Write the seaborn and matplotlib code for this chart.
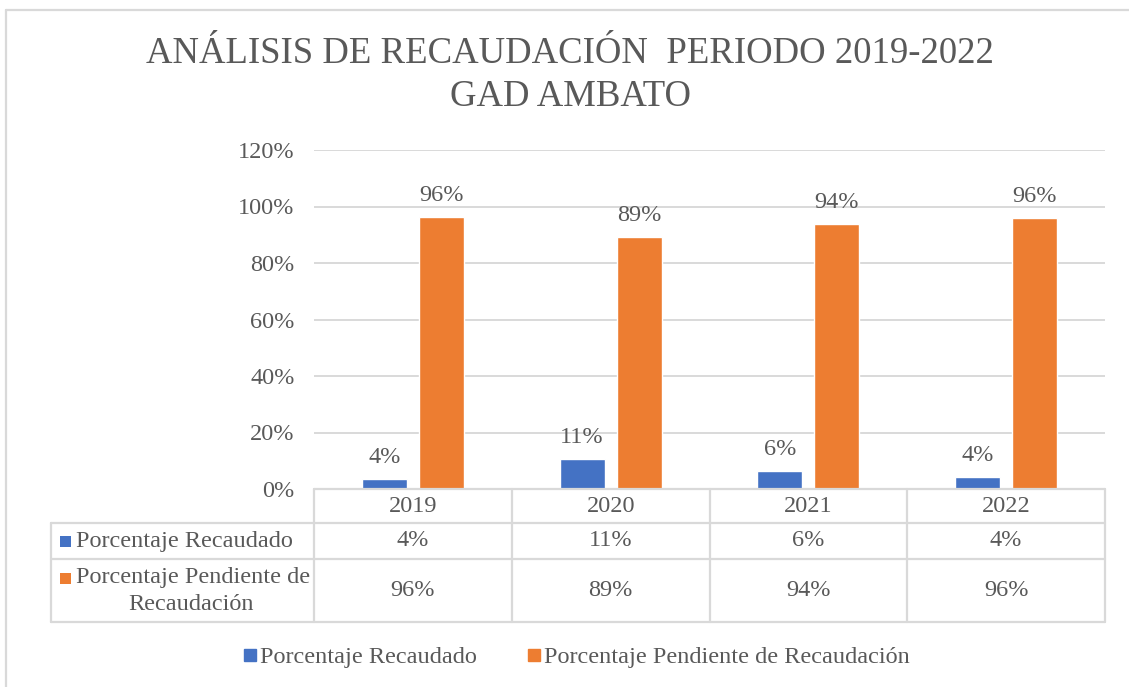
import matplotlib
matplotlib.use("Agg")
import matplotlib.pyplot as plt
import matplotlib.transforms as mtrans
from matplotlib.lines import Line2D
from matplotlib.patches import Rectangle
from matplotlib.ticker import PercentFormatter
import seaborn as sns
import pandas as pd

# datos (fracciones)
years = ["2019", "2020", "2021", "2022"]
recaudado = [0.036, 0.107, 0.062, 0.042]
pendiente = [0.964, 0.893, 0.938, 0.958]
series_names = ["Porcentaje Recaudado", "Porcentaje Pendiente de Recaudación"]
colors = ["#4472C4", "#ED7D31"]
yticks = [0, 0.2, 0.4, 0.6, 0.8, 1.0, 1.2]

W, H = 1129, 687
gray = "#595959"
lcol = "#D9D9D9"
fs = 17.5


def fx(px):
    return px / W


def fy(py):
    return 1 - py / H


def pct(v):
    return f"{v * 100:.0f}%"


sns.set_theme(style="white")
plt.rcParams['font.family'] = ['Liberation Serif', 'DejaVu Serif']

df = pd.DataFrame({
    "year": years * 2,
    "valor": recaudado + pendiente,
    "serie": [series_names[0]] * len(years) + [series_names[1]] * len(years),
})

fig = plt.figure(figsize=(W / 100, H / 100), dpi=100)
ax = fig.add_axes([fx(314), fy(489), fx(1105) - fx(314), fy(150) - fy(489)])
sns.barplot(data=df, x="year", y="valor", hue="serie", palette=colors,
            saturation=1, width=0.576, gap=0.21, legend=False, ax=ax)

ax.set_xlim(-0.5, len(years) - 0.5)
ax.set_ylim(0, 1.2)
ax.set_yticks(yticks)
ax.yaxis.set_major_formatter(PercentFormatter(1.0, decimals=0))
ax.grid(axis="y", color=lcol, lw=1.4)
ax.set_axisbelow(True)
for s in ax.spines.values():
    s.set_visible(False)
ax.set_xticks([])
ax.set_xlabel("")
ax.set_ylabel("")
ax.tick_params(axis="y", length=0, pad=14, labelsize=fs, labelcolor=gray)

for cont, vals in zip(ax.containers, [recaudado, pendiente]):
    ax.bar_label(cont, labels=[pct(v) for v in vals], padding=8, fontsize=fs, color=gray)

# tabla de datos
tr = mtrans.blended_transform_factory(ax.transData, fig.transFigure)
x0, x1 = -0.5, len(years) - 0.5
rows_y = [489, 523, 559, 622]


def fline(xs, ys, transform):
    fig.add_artist(Line2D(xs, ys, transform=transform, color=lcol, lw=1.6, clip_on=False))


fline([x0, x1], [fy(489), fy(489)], tr)
for py in rows_y[1:]:
    fline([fx(51), fx(1105)], [fy(py), fy(py)], fig.transFigure)
fline([fx(51), fx(51)], [fy(523), fy(622)], fig.transFigure)
for i in range(len(years) + 1):
    fline([x0 + i, x0 + i], [fy(489), fy(622)], tr)

for i, y in enumerate(years):
    fig.text(i, fy(506), y, transform=tr, ha="center", va="center", fontsize=fs, color=gray)
    fig.text(i, fy(541), pct(recaudado[i]), transform=tr, ha="center", va="center", fontsize=fs, color=gray)
    fig.text(i, fy(590), pct(pendiente[i]), transform=tr, ha="center", va="center", fontsize=fs, color=gray)

# etiquetas de fila con cuadrito
fig.add_artist(Rectangle((fx(60), fy(547)), fx(11), 11 / H, transform=fig.transFigure,
                         color=colors[0], lw=0))
fig.text(fx(76), fy(541), series_names[0], ha="left", va="center", fontsize=fs, color=gray)
fig.add_artist(Rectangle((fx(60), fy(584)), fx(11), 11 / H, transform=fig.transFigure,
                         color=colors[1], lw=0))
fig.text(fx(76), fy(578), "Porcentaje Pendiente de", ha="left", va="center", fontsize=fs, color=gray)
fig.text(fx(191), fy(604), "Recaudación", ha="center", va="center", fontsize=fs, color=gray)

# leyenda
handles = [Line2D([], [], marker="s", linestyle="", color=c, markersize=8) for c in colors]
fig.legend(handles, series_names, loc="center", bbox_to_anchor=(fx(577), fy(657)), ncol=2,
           frameon=False, fontsize=fs, handlelength=0.5, handletextpad=0.15,
           columnspacing=2.1, labelcolor=gray)

# titulo
fig.text(fx(570), fy(54), "ANÁLISIS DE RECAUDACIÓN  PERIODO 2019-2022", ha="center", va="center",
         fontsize=26.5, color=gray)
fig.text(fx(570), fy(97), "GAD AMBATO", ha="center", va="center", fontsize=26.5, color=gray)

# marco del grafico
fline([fx(6), fx(6)], [fy(10), 0], fig.transFigure)
fline([fx(6), 1], [fy(10), fy(10)], fig.transFigure)

fig.savefig("out.png", dpi=100)
